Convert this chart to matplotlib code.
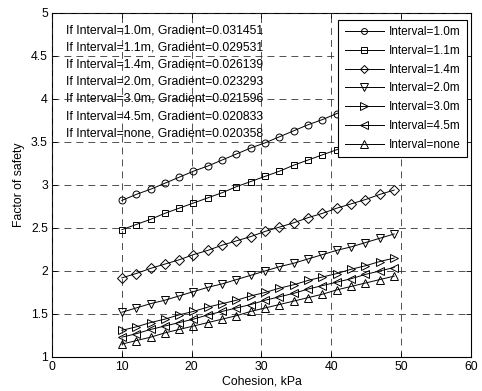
import numpy as np
import matplotlib
matplotlib.use('Agg')
import matplotlib.pyplot as plt

plt.rcParams['font.family'] = ['Liberation Sans', 'DejaVu Sans']
plt.rcParams['font.size'] = 8.8
plt.rcParams['lines.scale_dashes'] = False

# ============ data ============
cohesion = [10.0, 12.05, 14.11, 16.16, 18.21, 20.26, 22.32, 24.37, 26.42, 28.47,
            30.53, 32.58, 34.63, 36.68, 38.74, 40.79, 42.84, 44.89, 46.95, 49.0]

fs_10 = [2.82, 2.89, 2.95, 3.02, 3.09, 3.16, 3.22, 3.29, 3.36, 3.43,
         3.49, 3.56, 3.63, 3.70, 3.76, 3.83, 3.90, 3.97, 4.03, 4.10]
fs_11 = [2.48, 2.54, 2.60, 2.67, 2.73, 2.79, 2.85, 2.91, 2.98, 3.04,
         3.10, 3.16, 3.23, 3.29, 3.35, 3.41, 3.47, 3.54, 3.60, 3.66]
fs_14 = [1.92, 1.97, 2.03, 2.08, 2.13, 2.19, 2.24, 2.30, 2.35, 2.40,
         2.46, 2.51, 2.56, 2.62, 2.67, 2.73, 2.78, 2.83, 2.89, 2.94]
fs_20 = [1.52, 1.57, 1.62, 1.66, 1.71, 1.76, 1.81, 1.85, 1.90, 1.95,
         2.00, 2.05, 2.09, 2.14, 2.19, 2.24, 2.28, 2.33, 2.38, 2.43]
fs_30 = [1.31, 1.35, 1.40, 1.44, 1.49, 1.53, 1.58, 1.62, 1.66, 1.71,
         1.75, 1.80, 1.84, 1.89, 1.93, 1.97, 2.02, 2.06, 2.11, 2.15]
fs_45 = [1.23, 1.27, 1.32, 1.36, 1.40, 1.44, 1.49, 1.53, 1.57, 1.61,
         1.66, 1.70, 1.74, 1.79, 1.83, 1.87, 1.91, 1.96, 2.00, 2.04]
fs_none = [1.15, 1.19, 1.23, 1.28, 1.32, 1.36, 1.40, 1.44, 1.48, 1.53,
           1.57, 1.61, 1.65, 1.69, 1.73, 1.78, 1.82, 1.86, 1.90, 1.94]

intervals = ['1.0m', '1.1m', '1.4m', '2.0m', '3.0m', '4.5m', 'none']
gradients = ['0.031451', '0.029531', '0.026139', '0.023293',
             '0.021596', '0.020833', '0.020358']
markers = ['o', 's', 'D', 'v', '>', '<', '^']
series = [fs_10, fs_11, fs_14, fs_20, fs_30, fs_45, fs_none]
msizes = {'o': 5, 's': 5, 'D': 4.6, 'v': 6, '>': 6, '<': 6, '^': 6}

# ============ figure ============
fig = plt.figure(figsize=(4.82, 3.91), dpi=100)
ax = fig.add_axes([0.108, 0.087, 0.869, 0.880])

for name, mk, ys in zip(intervals, markers, series):
    ax.plot(cohesion, ys, color='k', linewidth=0.7, marker=mk, markersize=msizes[mk],
            markerfacecolor='none', markeredgecolor='k', markeredgewidth=0.7,
            label='Interval=' + name, zorder=3)

# 文字说明
for i, (name, g) in enumerate(zip(intervals, gradients)):
    ax.text(2, 4.8 - 0.2 * i, f'If Interval={name}, Gradient={g}',
            va='center', ha='left', fontsize=8.8, zorder=1)

ax.set_xlim(0, 60)
ax.set_ylim(1, 5)
ax.set_xticks(np.arange(0, 61, 10))
ax.set_yticks([1, 1.5, 2, 2.5, 3, 3.5, 4, 4.5, 5])
ax.set_yticklabels(['1', '1.5', '2', '2.5', '3', '3.5', '4', '4.5', '5'])
ax.set_xlabel('Cohesion, kPa', labelpad=2)
ax.set_ylabel('Factor of safety', labelpad=4)

ax.set_axisbelow(False)
ax.grid(True, color='#222222', linestyle=(0, (5, 3.6)), linewidth=0.55)
ax.tick_params(direction='in', top=True, right=True, length=3.5, width=0.6, pad=3)
for sp in ax.spines.values():
    sp.set_linewidth(0.8)

leg = ax.legend(loc='upper right', bbox_to_anchor=(0.990, 0.980), borderaxespad=0,
                fancybox=False, edgecolor='k', framealpha=1, fontsize=8.5,
                handlelength=3.3, handletextpad=0.4, labelspacing=0.57,
                borderpad=0.55, markerscale=0.85)
leg.get_frame().set_linewidth(0.8)
leg.set_zorder(5)

fig.savefig('out.png', dpi=100)
plt.close()
